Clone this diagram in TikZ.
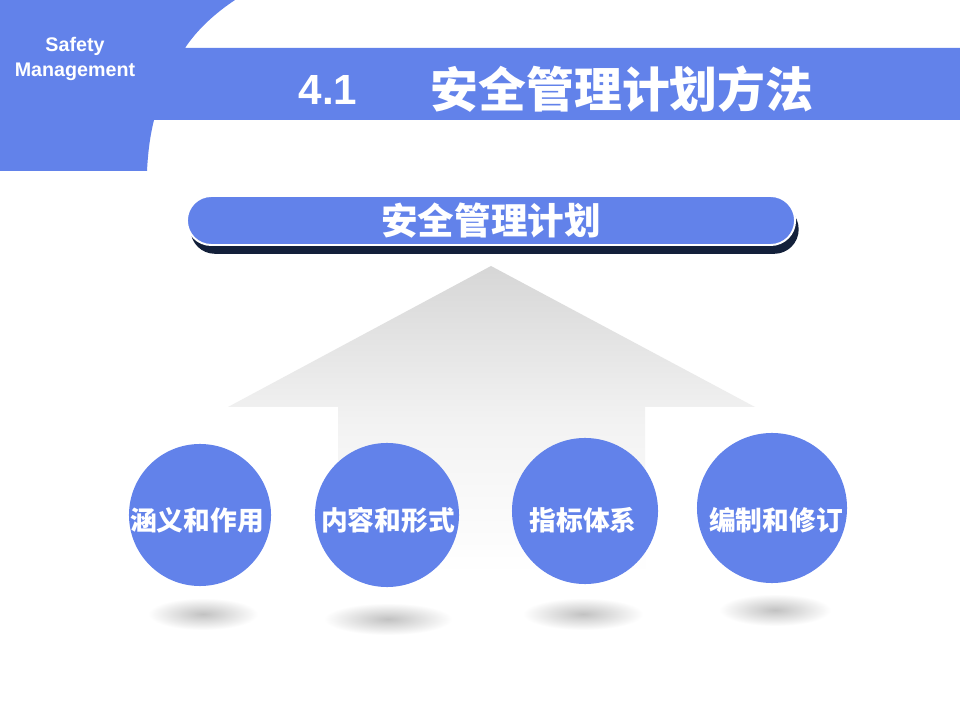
\documentclass[tikz,border=0pt]{standalone}
\usepackage{fontspec}
\setmainfont{Liberation Sans}
\newfontfamily\cjk{Noto Sans CJK SC}
\usepackage{xcolor}
\usetikzlibrary{positioning,shadows}

\definecolor{slideblue}{HTML}{6282EA}
\definecolor{pillshade}{HTML}{13203A}

\begin{document}
\begin{tikzpicture}[x=0.025cm,y=-0.025cm,
  headtxt/.style={text=white,font=\bfseries\fontsize{14}{18}\selectfont,align=center},
  titletxt/.style={text=white,font=\cjk\bfseries\fontsize{34}{34}\selectfont},
  pill/.style={fill=slideblue,draw=white,line width=1.4pt,rounded corners=0.61cm,
    minimum width=15.2cm,minimum height=1.225cm,inner sep=0pt,text=white,
    font=\cjk\bfseries\fontsize{26}{26}\selectfont,
    drop shadow={shadow xshift=0.09cm,shadow yshift=-0.22cm,fill=pillshade,opacity=1}},
  ball/.style={circle,fill=slideblue,inner sep=0pt,minimum size=#1},
  balltxt/.style={text=white,inner sep=0pt,font=\cjk\bfseries\fontsize{19}{19}\selectfont}]

  \useasboundingbox (0,0) rectangle (960,720);
  \fill[white] (0,0) rectangle (960,720);

  % ---------- header band ----------
  \fill[slideblue] (0,0) -- (235,0) .. controls (214,14) and (197,30) .. (185,48)
    -- (960,48) -- (960,120) -- (154,120) .. controls (150,136) and (148,152) .. (147,171)
    -- (0,171) -- cycle;
  \node[headtxt] (brand) at (75,59) {Safety\\Management};
  \node[text=white,font=\bfseries\fontsize{30}{30}\selectfont] (secnum) at (328,90) {4.1};
  \node[titletxt] (title) at (622,89) {安全管理计划方法};

  % ---------- big grey arrow ----------
  \shade[top color=black!16,bottom color=white,middle color=black!5]
    (491,266) -- (755,407) -- (645,407) -- (645,575) -- (338,575)
    -- (338,407) -- (228,407) -- cycle;

  % ---------- top pill ----------
  \node[pill] (plan) at (491,220.5) {安全管理计划};

  % ---------- circles ----------
  \foreach \cx/\cy/\d/\sx/\sy/\sw/\tx/\nm/\lbl in {
      200/515/3.55cm/203/614/55/197/c1/涵义和作用,
      387/515/3.6cm/388/619/64/388/c2/内容和形式,
      585/511/3.65cm/583/614/60/583/c3/指标体系,
      772/508/3.75cm/775/610/56/776/c4/编制和修订} {
    \shade[inner color=black!24,outer color=white] (\sx,\sy) ellipse [x radius=\sw, y radius=16];
    \node[ball=\d] (\nm) at (\cx,\cy) {};
    \node[balltxt] (\nm-txt) at (\tx,520) {\lbl};
  }

\end{tikzpicture}
\end{document}
